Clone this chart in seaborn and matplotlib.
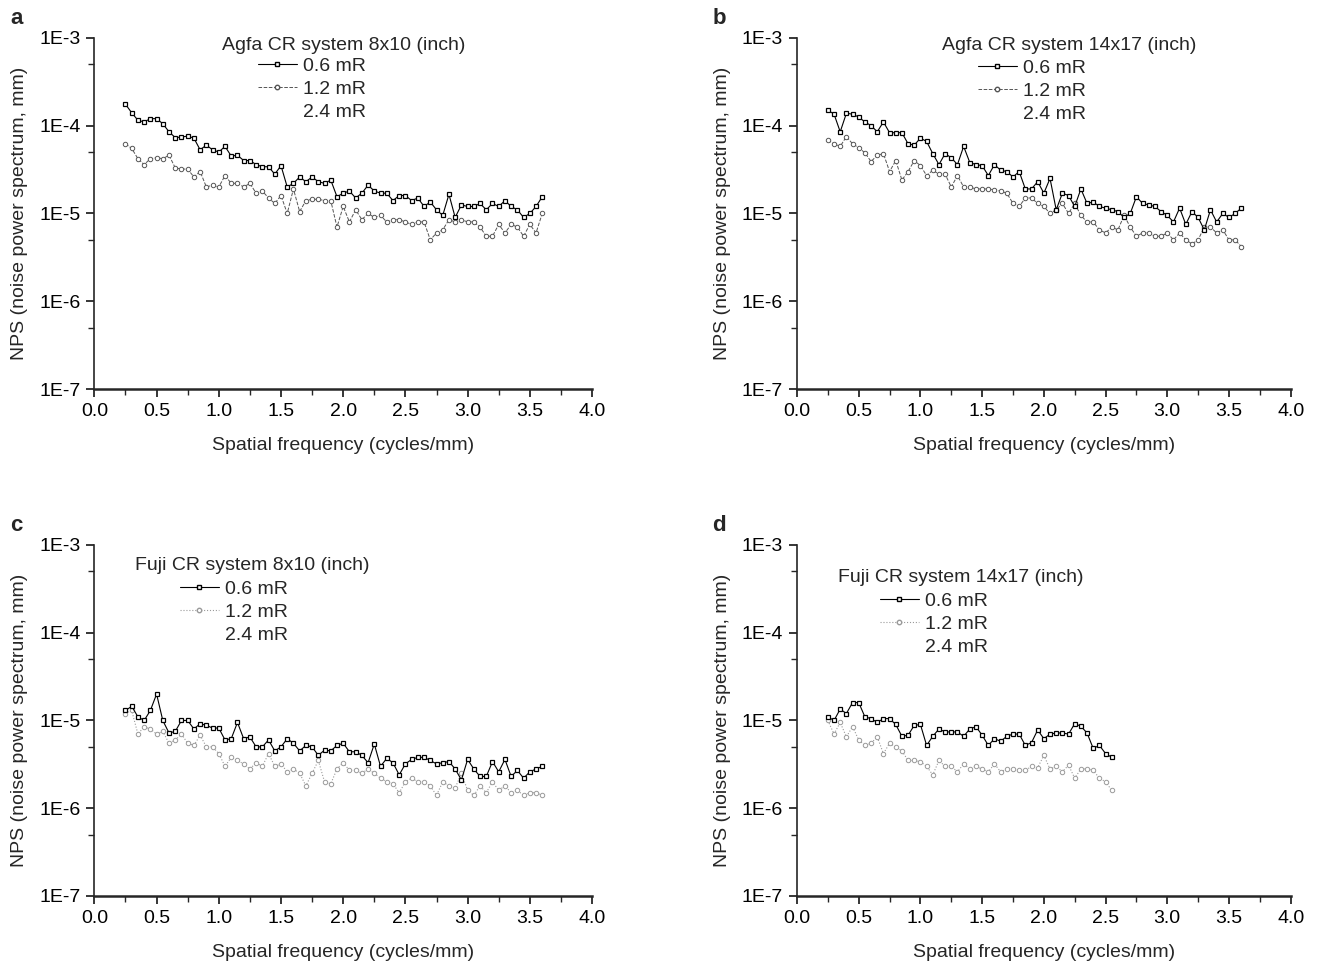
import numpy as np
import matplotlib as mpl
from matplotlib import pyplot as plt
from matplotlib.lines import Line2D
import seaborn as sns
import pandas as pd

sns.set_style('ticks')
plt.rcParams['font.family'] = ['Liberation Sans', 'DejaVu Sans']

# spatial frequency grids (cycles/mm)
freq_long = np.arange(0.25, 3.601, 0.05)
freq_short = np.arange(0.25, 2.551, 0.05)

agfa_8x10_06 = [1.75e-4, 1.4e-4, 1.15e-4, 1.1e-4, 1.2e-4, 1.2e-4, 1.05e-4, 8.5e-5, 7.3e-5, 7.4e-5,
                7.6e-5, 7.2e-5, 5.3e-5, 6.0e-5, 5.3e-5, 5.0e-5, 5.8e-5, 4.5e-5, 4.6e-5, 4.0e-5,
                4.0e-5, 3.6e-5, 3.4e-5, 3.4e-5, 2.8e-5, 3.5e-5, 2.0e-5, 2.2e-5, 2.6e-5, 2.3e-5,
                2.6e-5, 2.3e-5, 2.2e-5, 2.4e-5, 1.55e-5, 1.7e-5, 1.8e-5, 1.5e-5, 1.7e-5, 2.1e-5,
                1.8e-5, 1.7e-5, 1.7e-5, 1.4e-5, 1.6e-5, 1.6e-5, 1.4e-5, 1.5e-5, 1.2e-5, 1.35e-5,
                1.1e-5, 0.95e-5, 1.65e-5, 0.9e-5, 1.25e-5, 1.2e-5, 1.2e-5, 1.3e-5, 1.1e-5, 1.3e-5,
                1.2e-5, 1.4e-5, 1.2e-5, 1.1e-5, 0.9e-5, 1.0e-5, 1.2e-5, 1.55e-5]
agfa_8x10_12 = [6.2e-5, 5.5e-5, 4.2e-5, 3.6e-5, 4.2e-5, 4.3e-5, 4.2e-5, 4.6e-5, 3.3e-5, 3.2e-5,
                3.2e-5, 2.6e-5, 3.0e-5, 2.0e-5, 2.1e-5, 2.0e-5, 2.7e-5, 2.2e-5, 2.2e-5, 2.0e-5,
                2.2e-5, 1.7e-5, 1.8e-5, 1.5e-5, 1.3e-5, 1.6e-5, 1.0e-5, 1.9e-5, 1.05e-5, 1.4e-5,
                1.45e-5, 1.45e-5, 1.4e-5, 1.4e-5, 0.7e-5, 1.2e-5, 0.8e-5, 1.1e-5, 0.85e-5, 1.0e-5,
                0.9e-5, 0.95e-5, 0.8e-5, 0.85e-5, 0.85e-5, 0.8e-5, 0.75e-5, 0.8e-5, 0.8e-5, 0.5e-5,
                0.6e-5, 0.65e-5, 0.85e-5, 0.8e-5, 0.85e-5, 0.8e-5, 0.8e-5, 0.7e-5, 0.55e-5, 0.55e-5,
                0.75e-5, 0.6e-5, 0.75e-5, 0.7e-5, 0.55e-5, 0.75e-5, 0.6e-5, 1.0e-5]

agfa_14x17_06 = [1.5e-4, 1.35e-4, 8.5e-5, 1.38e-4, 1.35e-4, 1.25e-4, 1.1e-4, 1.0e-4, 8.5e-5, 1.1e-4,
                 8.3e-5, 8.3e-5, 8.3e-5, 6.2e-5, 6.0e-5, 7.2e-5, 6.6e-5, 4.8e-5, 3.6e-5, 4.8e-5,
                 4.3e-5, 3.6e-5, 5.8e-5, 3.8e-5, 3.6e-5, 3.5e-5, 2.7e-5, 3.6e-5, 3.1e-5, 3.0e-5,
                 2.6e-5, 3.0e-5, 1.9e-5, 1.9e-5, 2.3e-5, 1.7e-5, 2.5e-5, 1.1e-5, 1.7e-5, 1.6e-5,
                 1.2e-5, 1.9e-5, 1.3e-5, 1.35e-5, 1.2e-5, 1.15e-5, 1.1e-5, 1.05e-5, 0.9e-5, 1.0e-5,
                 1.55e-5, 1.3e-5, 1.25e-5, 1.2e-5, 1.05e-5, 0.95e-5, 0.8e-5, 1.15e-5, 0.75e-5, 1.05e-5,
                 0.9e-5, 0.65e-5, 1.1e-5, 0.8e-5, 1.0e-5, 0.9e-5, 1.0e-5, 1.15e-5]
agfa_14x17_12 = [6.8e-5, 6.2e-5, 5.8e-5, 7.5e-5, 6.2e-5, 5.6e-5, 4.9e-5, 3.9e-5, 4.6e-5, 4.8e-5,
                 3.0e-5, 4.0e-5, 2.4e-5, 3.0e-5, 4.0e-5, 3.5e-5, 2.7e-5, 3.1e-5, 2.8e-5, 2.8e-5,
                 2.0e-5, 2.7e-5, 2.0e-5, 2.0e-5, 1.9e-5, 1.9e-5, 1.9e-5, 1.85e-5, 1.8e-5, 1.7e-5,
                 1.3e-5, 1.2e-5, 1.5e-5, 1.5e-5, 1.3e-5, 1.2e-5, 1.0e-5, 1.1e-5, 1.3e-5, 1.0e-5,
                 1.3e-5, 0.95e-5, 0.8e-5, 0.8e-5, 0.65e-5, 0.6e-5, 0.7e-5, 0.65e-5, 0.95e-5, 0.7e-5,
                 0.55e-5, 0.6e-5, 0.6e-5, 0.55e-5, 0.55e-5, 0.6e-5, 0.5e-5, 0.6e-5, 0.5e-5, 0.45e-5,
                 0.5e-5, 0.7e-5, 0.7e-5, 0.6e-5, 0.65e-5, 0.5e-5, 0.5e-5, 0.42e-5]

fuji_8x10_06 = [1.3e-5, 1.45e-5, 1.1e-5, 1.0e-5, 1.3e-5, 2.0e-5, 1.0e-5, 0.72e-5, 0.75e-5, 1.0e-5,
                1.0e-5, 0.8e-5, 0.92e-5, 0.88e-5, 0.82e-5, 0.82e-5, 0.6e-5, 0.62e-5, 0.95e-5, 0.62e-5,
                0.65e-5, 0.5e-5, 0.5e-5, 0.6e-5, 0.45e-5, 0.5e-5, 0.62e-5, 0.55e-5, 0.45e-5, 0.52e-5,
                0.5e-5, 0.4e-5, 0.46e-5, 0.45e-5, 0.52e-5, 0.55e-5, 0.44e-5, 0.44e-5, 0.4e-5, 0.33e-5,
                0.54e-5, 0.3e-5, 0.37e-5, 0.33e-5, 0.24e-5, 0.32e-5, 0.36e-5, 0.38e-5, 0.38e-5, 0.35e-5,
                0.32e-5, 0.33e-5, 0.34e-5, 0.28e-5, 0.21e-5, 0.36e-5, 0.28e-5, 0.23e-5, 0.23e-5, 0.34e-5,
                0.26e-5, 0.36e-5, 0.23e-5, 0.27e-5, 0.22e-5, 0.26e-5, 0.28e-5, 0.3e-5]
fuji_8x10_12 = [1.2e-5, 1.3e-5, 0.7e-5, 0.85e-5, 0.8e-5, 0.7e-5, 0.75e-5, 0.55e-5, 0.6e-5, 0.7e-5,
                0.55e-5, 0.52e-5, 0.68e-5, 0.5e-5, 0.5e-5, 0.42e-5, 0.3e-5, 0.38e-5, 0.35e-5, 0.32e-5,
                0.28e-5, 0.33e-5, 0.3e-5, 0.42e-5, 0.3e-5, 0.32e-5, 0.26e-5, 0.28e-5, 0.25e-5, 0.18e-5,
                0.25e-5, 0.35e-5, 0.2e-5, 0.19e-5, 0.28e-5, 0.33e-5, 0.27e-5, 0.27e-5, 0.25e-5, 0.28e-5,
                0.25e-5, 0.22e-5, 0.2e-5, 0.19e-5, 0.15e-5, 0.2e-5, 0.22e-5, 0.2e-5, 0.2e-5, 0.18e-5,
                0.14e-5, 0.2e-5, 0.18e-5, 0.17e-5, 0.25e-5, 0.16e-5, 0.14e-5, 0.18e-5, 0.15e-5, 0.2e-5,
                0.16e-5, 0.18e-5, 0.15e-5, 0.16e-5, 0.14e-5, 0.15e-5, 0.15e-5, 0.14e-5]

fuji_14x17_06 = [1.1e-5, 1.0e-5, 1.35e-5, 1.2e-5, 1.6e-5, 1.6e-5, 1.1e-5, 1.05e-5, 0.95e-5, 1.05e-5,
                 1.05e-5, 0.9e-5, 0.66e-5, 0.68e-5, 0.88e-5, 0.9e-5, 0.52e-5, 0.66e-5, 0.8e-5, 0.74e-5,
                 0.74e-5, 0.74e-5, 0.66e-5, 0.8e-5, 0.85e-5, 0.68e-5, 0.52e-5, 0.62e-5, 0.58e-5, 0.66e-5,
                 0.7e-5, 0.7e-5, 0.52e-5, 0.56e-5, 0.78e-5, 0.62e-5, 0.7e-5, 0.72e-5, 0.72e-5, 0.7e-5,
                 0.92e-5, 0.86e-5, 0.72e-5, 0.48e-5, 0.52e-5, 0.42e-5, 0.38e-5]
fuji_14x17_12 = [1.0e-5, 0.7e-5, 0.95e-5, 0.65e-5, 0.85e-5, 0.6e-5, 0.52e-5, 0.55e-5, 0.65e-5, 0.42e-5,
                 0.55e-5, 0.5e-5, 0.45e-5, 0.35e-5, 0.35e-5, 0.34e-5, 0.3e-5, 0.24e-5, 0.35e-5, 0.3e-5,
                 0.3e-5, 0.26e-5, 0.32e-5, 0.28e-5, 0.3e-5, 0.28e-5, 0.26e-5, 0.32e-5, 0.26e-5, 0.28e-5,
                 0.28e-5, 0.27e-5, 0.27e-5, 0.3e-5, 0.29e-5, 0.4e-5, 0.28e-5, 0.3e-5, 0.26e-5, 0.31e-5,
                 0.22e-5, 0.28e-5, 0.28e-5, 0.27e-5, 0.22e-5, 0.2e-5, 0.16e-5]

doses = ['0.6 mR', '1.2 mR', '2.4 mR']
titles = ['Agfa CR system 8x10 (inch)', 'Agfa CR system 14x17 (inch)',
          'Fuji CR system 8x10 (inch)', 'Fuji CR system 14x17 (inch)']
panel_letters = ['a', 'b', 'c', 'd']

panels = [
    (freq_long, agfa_8x10_06, agfa_8x10_12),
    (freq_long, agfa_14x17_06, agfa_14x17_12),
    (freq_long, fuji_8x10_06, fuji_8x10_12),
    (freq_short, fuji_14x17_06, fuji_14x17_12),
]

W, H = 1320, 968
# axes rectangles in figure fractions
rects = [
    [0.0715, 0.598, 0.377, 0.363],
    [0.6038, 0.598, 0.374, 0.363],
    [0.0715, 0.0744, 0.377, 0.3626],
    [0.6038, 0.0744, 0.374, 0.3626],
]
# legend title (left, y) and legend entries (left, top) in pixels
title_pos = [(222, 45), (942, 45), (135, 566), (838, 578)]
entry_pos = [(258, 57), (978, 59), (180, 580), (880, 592)]
light_styles = [dict(color='#555555', ls='--', lw=0.7),
                dict(color='#555555', ls='--', lw=0.7),
                dict(color='#9a9a9a', ls=':', lw=0.8),
                dict(color='#9a9a9a', ls=':', lw=0.8)]

fig = plt.figure(figsize=(W / 100, H / 100), dpi=100)

for i, (freq, low, mid) in enumerate(panels):
    ax = fig.add_axes(rects[i])
    df = pd.DataFrame({'freq': freq, 'low': low, 'mid': mid})
    ls = light_styles[i]
    sns.lineplot(data=df, x='freq', y='mid', ax=ax, color=ls['color'], linestyle=ls['ls'],
                 linewidth=ls['lw'], marker='o', markersize=3.2, markerfacecolor='white',
                 markeredgecolor=ls['color'], markeredgewidth=0.7)
    sns.lineplot(data=df, x='freq', y='low', ax=ax, color='black', linewidth=0.8,
                 marker='s', markersize=3.3, markerfacecolor='white',
                 markeredgecolor='black', markeredgewidth=0.9)

    ax.set_yscale('log')
    ax.set_ylim(1e-7, 1e-3)
    ax.set_xlim(0, 4)
    ax.xaxis.set_major_locator(mpl.ticker.MultipleLocator(0.5))
    ax.xaxis.set_minor_locator(mpl.ticker.MultipleLocator(0.25))
    ax.xaxis.set_major_formatter(mpl.ticker.FormatStrFormatter('%.1f'))
    ax.yaxis.set_major_locator(mpl.ticker.LogLocator(base=10, numticks=10))
    ax.yaxis.set_minor_locator(mpl.ticker.LogLocator(base=10, subs=[5.0], numticks=10))
    ax.yaxis.set_major_formatter(mpl.ticker.FuncFormatter(
        lambda v, pos: f"1E{int(round(np.log10(v)))}"))
    ax.yaxis.set_minor_formatter(mpl.ticker.NullFormatter())
    ax.tick_params(axis='both', which='major', direction='out', length=6, width=1.1,
                   labelsize=14, colors='black', pad=4)
    ax.tick_params(axis='both', which='minor', direction='out', length=4, width=1.0)
    for side in ['top', 'right']:
        ax.spines[side].set_visible(False)
    ax.spines['left'].set_linewidth(1.2)
    ax.spines['bottom'].set_linewidth(1.8)
    ax.set_xlabel('Spatial frequency (cycles/mm)', fontsize=14, labelpad=12)
    ax.set_ylabel('NPS (noise power spectrum, mm)', fontsize=14, labelpad=8)

    handles = [
        Line2D([], [], color='black', lw=0.8, marker='s', markersize=3.3,
               markerfacecolor='white', markeredgecolor='black'),
        Line2D([], [], color=ls['color'], lw=ls['lw'], ls=ls['ls'], marker='o', markersize=3.2,
               markerfacecolor='white', markeredgecolor=ls['color']),
        Line2D([], [], ls='none'),
    ]
    ex, ey = entry_pos[i]
    ax.legend(handles=handles, labels=doses, loc='upper left',
              bbox_to_anchor=(ex / W, 1 - ey / H), bbox_transform=fig.transFigure,
              frameon=False, fontsize=14, handlelength=2.0, handletextpad=0.3,
              labelspacing=0.28, borderpad=0, borderaxespad=0)
    tx, ty = title_pos[i]
    fig.text(tx / W, 1 - ty / H, titles[i], fontsize=14, ha='left', va='center')

    fig.text(rects[i][0] - 0.064, rects[i][1] + rects[i][3] + 0.02, panel_letters[i],
             fontsize=16, fontweight='bold', va='center', ha='left')

fig.savefig('out.png', dpi=100)
